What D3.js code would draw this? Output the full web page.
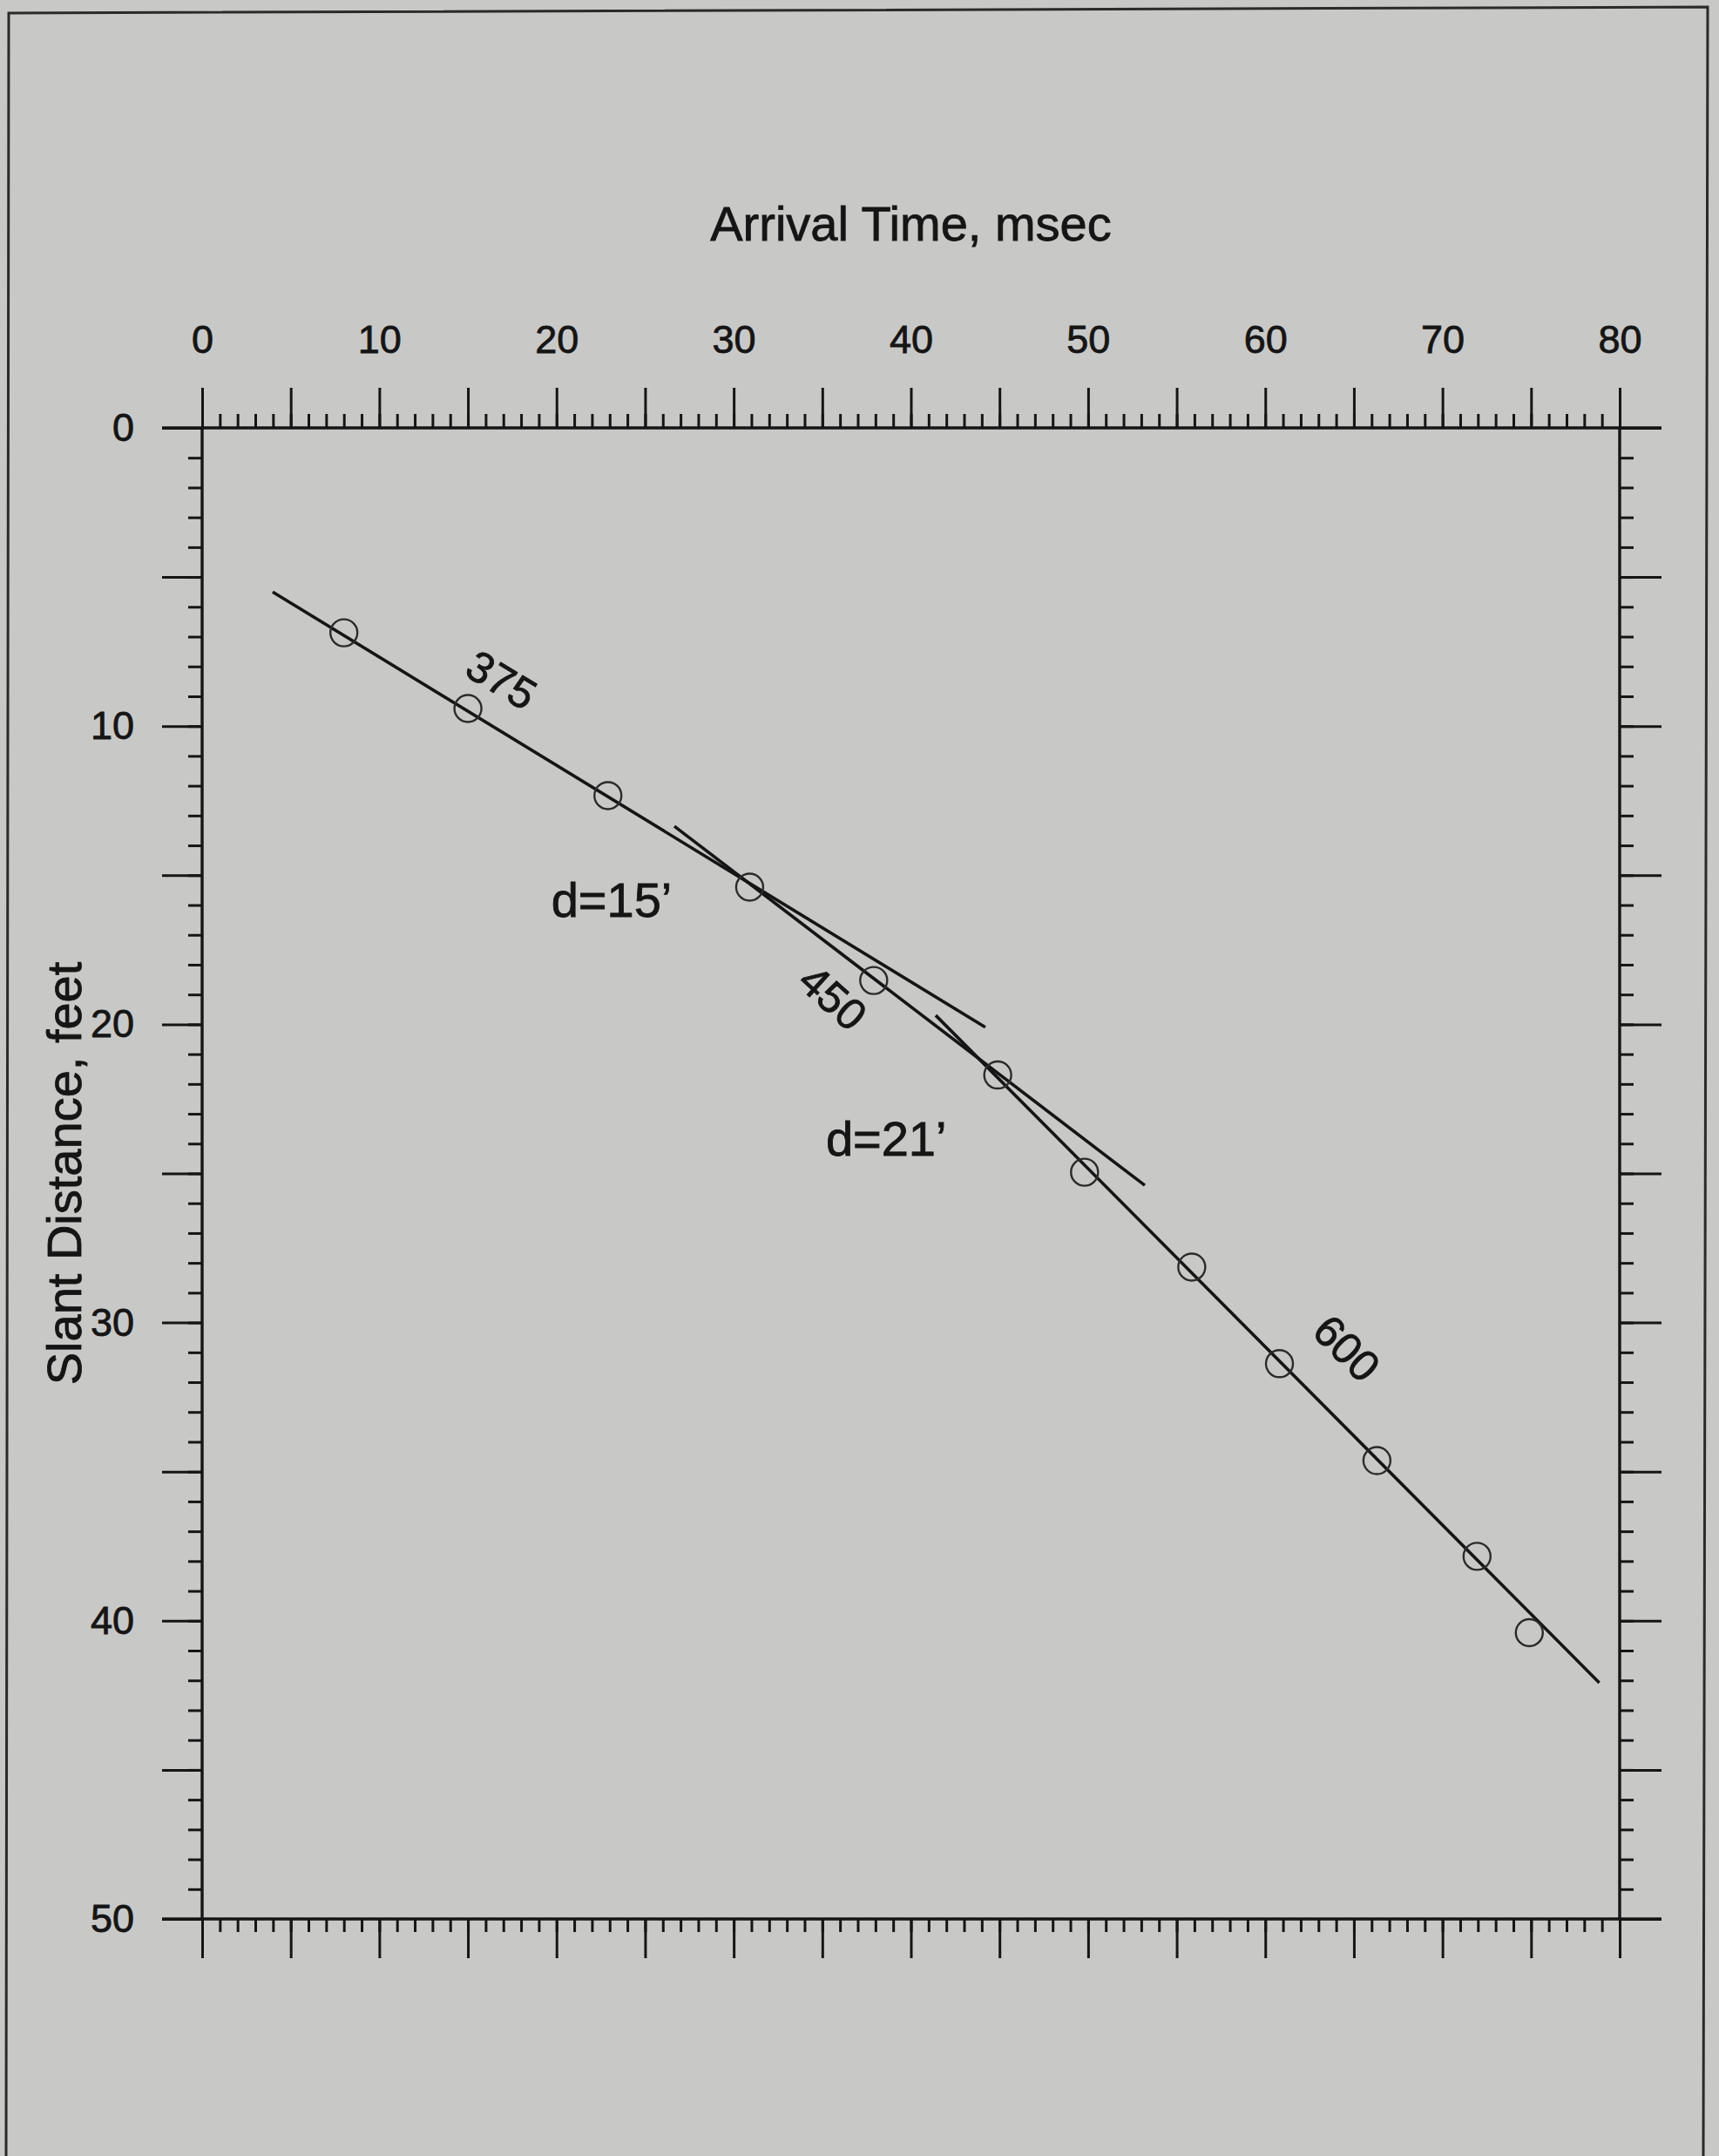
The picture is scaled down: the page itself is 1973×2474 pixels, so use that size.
<!DOCTYPE html>
<html>
<head>
<meta charset="utf-8">
<script src="https://cdnjs.cloudflare.com/ajax/libs/d3/7.8.5/d3.min.js"></script>
<style>
  html, body { margin: 0; padding: 0; background: #c8c9c7; }
  svg { display: block; }
  text { font-family: "Liberation Sans", Arial, Helvetica, sans-serif; fill: #151515; stroke: #151515; stroke-width: 0.8px; }
</style>
</head>
<body>
<div id="chart"></div>
<script>
// arrival times (msec) and slant distances (feet) of the picks
const times = [8.0, 15.0, 22.9, 30.9, 37.9, 44.9, 49.8, 55.85, 60.8, 66.3, 71.95, 74.9];
const dists = [6.87, 9.41, 12.33, 15.4, 18.53, 21.7, 24.96, 28.14, 31.38, 34.63, 37.84, 40.4];

// fitted velocity segments: [t0, d0, t1, d1]
const segNames = ["375", "450", "600"];
const segT0 = [3.98, 26.65, 41.4];
const segD0 = [5.5, 13.36, 19.7];
const segT1 = [44.2, 53.2, 78.85];
const segD1 = [20.1, 25.4, 42.08];
// velocity label positions (data units) and rotation
const velT = [16.9, 35.6, 64.6];
const velD = [8.45, 19.1, 30.86];
const velRot = [31, 42, 45];

// depth annotations
const noteText = ["d=15\u2019", "d=21\u2019"];
const noteT = [19.7, 35.2];
const noteD = [16.4, 24.4];

const xLabels = [0, 10, 20, 30, 40, 50, 60, 70, 80];
const yLabels = [0, 10, 20, 30, 40, 50];

const W = 1973, H = 2474;
const ink = "#151515";

const svg = d3.select("#chart").append("svg")
    .attr("width", W).attr("height", H);

// page frame (scanned sheet, slightly skewed)
svg.append("path")
    .attr("d", "M7,2474 L10,15 L1960,8 L1955,2474")
    .attr("fill", "none").attr("stroke", "#2a2a2a").attr("stroke-width", 3);

const x = d3.scaleLinear().domain([0, 80]).range([232, 1859]);
const y = d3.scaleLinear().domain([0, 50]).range([491, 2202]);

const minorX = d3.range(0, 81, 1), majorX = d3.range(0, 81, 5);
const minorY = d3.range(0, 51, 1), majorY = d3.range(0, 51, 5);

function tickLayer(axis, tx, ty) {
    const g = svg.append("g").attr("transform", "translate(" + tx + "," + ty + ")").call(axis);
    g.select(".domain").remove();
    g.selectAll(".tick line").attr("stroke", ink).attr("stroke-width", 3);
    return g;
}

// top
tickLayer(d3.axisTop(x).tickValues(minorX).tickSize(16).tickFormat(""), 0, y(0));
tickLayer(d3.axisTop(x).tickValues(majorX).tickSize(46).tickFormat(""), 0, y(0));
// bottom
tickLayer(d3.axisBottom(x).tickValues(minorX).tickSize(15).tickFormat(""), 0, y(50));
tickLayer(d3.axisBottom(x).tickValues(majorX).tickSize(45).tickFormat(""), 0, y(50));
// left
tickLayer(d3.axisLeft(y).tickValues(minorY).tickSize(16).tickFormat(""), x(0), 0);
tickLayer(d3.axisLeft(y).tickValues(majorY).tickSize(46).tickFormat(""), x(0), 0);
// right
tickLayer(d3.axisRight(y).tickValues(minorY).tickSize(16).tickFormat(""), x(80), 0);
tickLayer(d3.axisRight(y).tickValues(majorY).tickSize(48).tickFormat(""), x(80), 0);

// tick labels
const topLab = svg.append("g").attr("transform", "translate(0," + y(0) + ")")
    .call(d3.axisTop(x).tickValues(xLabels).tickSize(0).tickPadding(86).tickFormat(d3.format("d")));
topLab.select(".domain").remove();
topLab.selectAll("text").attr("font-size", 45).attr("fill", ink)
    .style("font-family", "'Liberation Sans', Arial, sans-serif");

const leftLab = svg.append("g").attr("transform", "translate(" + x(0) + ",0)")
    .call(d3.axisLeft(y).tickValues(yLabels).tickSize(0).tickPadding(78).tickFormat(d3.format("d")));
leftLab.select(".domain").remove();
leftLab.selectAll("text").attr("font-size", 45).attr("fill", ink)
    .style("font-family", "'Liberation Sans', Arial, sans-serif");

// axis lines, horizontal ones run past the corners
const frame = svg.append("g").attr("stroke", ink).attr("stroke-width", 3.4);
frame.append("line").attr("x1", x(0) - 46).attr("x2", x(80) + 48).attr("y1", y(0)).attr("y2", y(0));
frame.append("line").attr("x1", x(0) - 46).attr("x2", x(80) + 48).attr("y1", y(50)).attr("y2", y(50));
frame.append("line").attr("x1", x(0)).attr("x2", x(0)).attr("y1", y(0)).attr("y2", y(50));
frame.append("line").attr("x1", x(80)).attr("x2", x(80)).attr("y1", y(0)).attr("y2", y(50));

// axis titles
svg.append("text").attr("x", (x(0) + x(80)) / 2).attr("y", 276)
    .attr("text-anchor", "middle").attr("font-size", 56).text("Arrival Time, msec");
svg.append("text")
    .attr("transform", "translate(93," + (y(0) + y(50)) / 2 + ") rotate(-90)")
    .attr("text-anchor", "middle").attr("font-size", 56).text("Slant Distance, feet");

// velocity segments
svg.append("g").selectAll("line").data(segNames).join("line")
    .attr("x1", (d, i) => x(segT0[i])).attr("y1", (d, i) => y(segD0[i]))
    .attr("x2", (d, i) => x(segT1[i])).attr("y2", (d, i) => y(segD1[i]))
    .attr("stroke", ink).attr("stroke-width", 3.6);

// picks
svg.append("g").selectAll("circle").data(times).join("circle")
    .attr("cx", d => x(d)).attr("cy", (d, i) => y(dists[i]))
    .attr("r", 15.5).attr("fill", "none").attr("stroke", "#2b2b2b").attr("stroke-width", 2.4);

// velocity labels
svg.append("g").selectAll("text").data(segNames).join("text")
    .attr("transform", (d, i) => "translate(" + x(velT[i]) + "," + y(velD[i]) + ") rotate(" + velRot[i] + ")")
    .attr("text-anchor", "middle").attr("dy", "0.35em")
    .attr("font-size", 50).text(d => d);

// depth notes
svg.append("g").selectAll("text").data(noteText).join("text")
    .attr("x", (d, i) => x(noteT[i])).attr("y", (d, i) => y(noteD[i]))
    .attr("font-size", 56).text(d => d);
</script>
</body>
</html>
